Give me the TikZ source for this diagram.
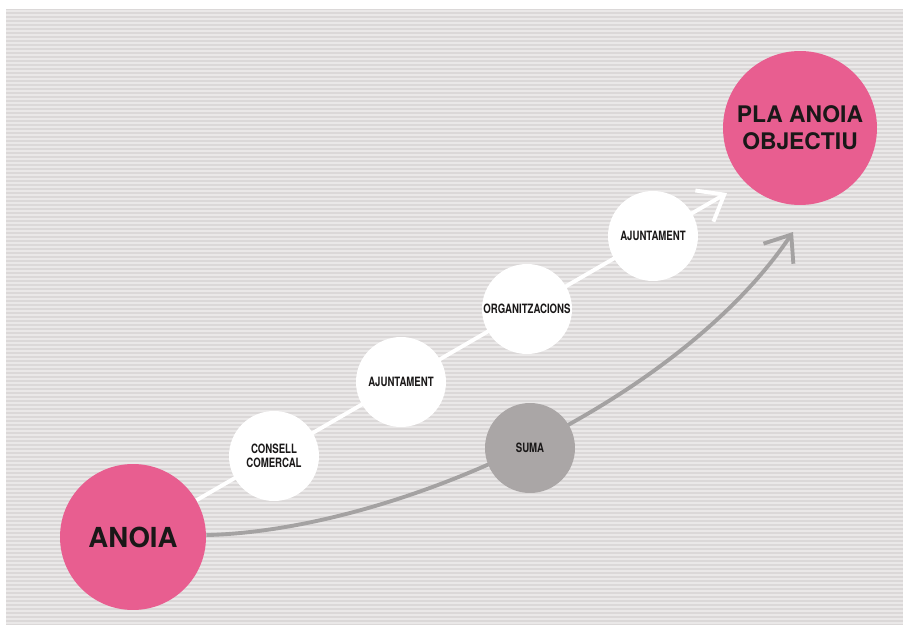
\documentclass[tikz,border=0pt]{standalone}
\usepackage{fontspec}
\setmainfont{TeX Gyre Heros}
\newfontfamily\narrowfont[FakeStretch=0.75]{TeX Gyre Heros}
\usepackage{tikz}
\usetikzlibrary{arrows.meta}

\definecolor{anoiapink}{RGB}{232,94,144}
\definecolor{stripedark}{RGB}{219,216,216}
\definecolor{stripelight}{RGB}{234,232,232}
\definecolor{sumagray}{RGB}{170,166,166}
\definecolor{linegray}{RGB}{164,162,162}
\definecolor{ink}{RGB}{26,24,24}

\pgfdeclarelayer{back}
\pgfdeclarelayer{lines}
\pgfsetlayers{back,lines,main}

\tikzset{
  goal/.style={circle,fill=anoiapink,text=ink,align=center,inner sep=0pt},
  stage/.style={circle,fill=white,minimum size=1.8cm,inner sep=0pt,text=ink,align=center,
    font=\narrowfont\bfseries\fontsize{7.3pt}{7.8pt}\selectfont},
  flow/.style={white,line width=2.2pt,-{Straight Barb[length=0.46cm,width=0.72cm]}},
  sumflow/.style={linegray,line width=2.2pt,-{Straight Barb[length=0.46cm,width=0.72cm]}},
}

\begin{document}
\begin{tikzpicture}[x=0.02cm,y=-0.02cm]
\useasboundingbox (0,0) rectangle (903,625);

\begin{pgfonlayer}{back}
\fill[white] (0,0) rectangle (903,625);
\fill[stripedark] (6,9) rectangle (903,625);
\foreach \s in {11,15,...,623}
  \draw[stripelight,line width=0.04cm] (6,\s) -- (903,\s);
\end{pgfonlayer}

\node[goal,minimum size=2.92cm,font=\bfseries\fontsize{15.7pt}{18pt}\selectfont] (anoia) at (133,537) {ANOIA};
\node[goal,minimum size=3.08cm,font=\bfseries\fontsize{13pt}{15.3pt}\selectfont] (pla) at (800,128) {PLA ANOIA\\OBJECTIU};

\node[stage] (consell) at (274,456) {CONSELL\\COMERCAL};
\node[stage] (ajunt1) at (401,382) {AJUNTAMENT};
\node[stage] (organitz) at (527,309) {ORGANITZACIONS};
\node[stage] (ajunt2) at (653,236) {AJUNTAMENT};
\node[stage,fill=sumagray] (suma) at (530,448) {SUMA};

\coordinate (tipw) at (727,193);
\coordinate (tipg) at (793,232);

\begin{pgfonlayer}{lines}
\draw[flow] (anoia) -- (tipw);
\draw[sumflow] (anoia) .. controls (400,530) and (680,400) .. (tipg);
\end{pgfonlayer}

\end{tikzpicture}
\end{document}
